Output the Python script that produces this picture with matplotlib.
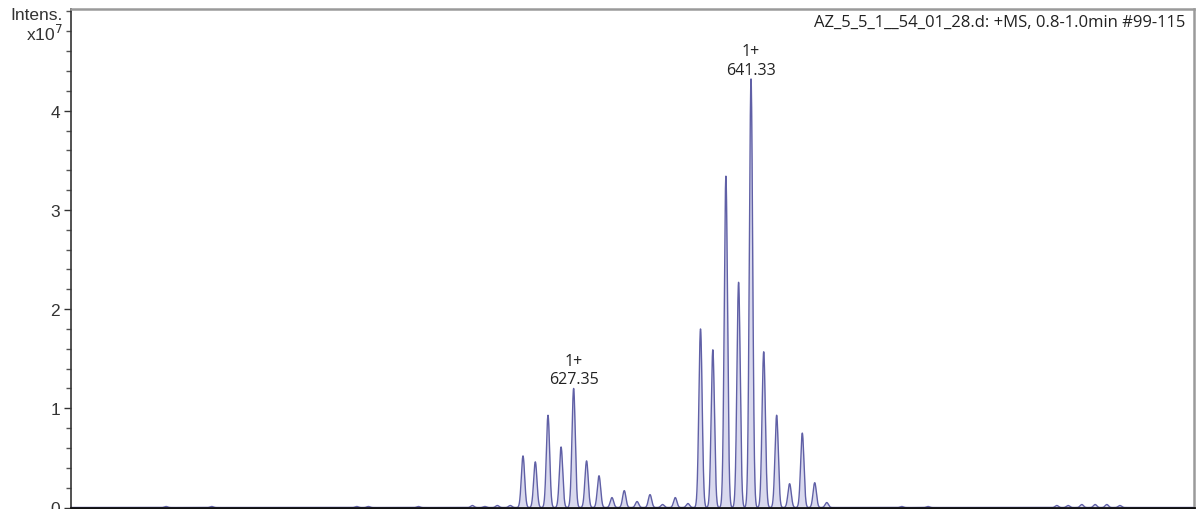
import numpy as np
import matplotlib
matplotlib.use("Agg")
import matplotlib.pyplot as plt
from matplotlib.ticker import MultipleLocator

# Centroided peak list (m/z) and intensities (x10^7)
mz = [595.23, 598.83, 610.26, 611.18, 615.12,
      619.37, 620.36, 621.34, 622.36,
      623.36, 624.33, 625.33, 626.36, 627.35, 628.37, 629.35, 630.37,
      631.34, 632.35, 633.37, 634.36, 635.36, 636.36,
      637.35, 638.32, 639.35, 640.35, 641.33, 642.33, 643.35, 644.37,
      645.37, 646.35, 647.30,
      653.21, 655.28, 665.43, 666.32, 667.40, 668.45, 669.37, 670.40]
intensity = [0.01, 0.01, 0.01, 0.01, 0.01,
             0.02, 0.01, 0.02, 0.02,
             0.52, 0.46, 0.93, 0.61, 1.20, 0.47, 0.32, 0.10,
             0.17, 0.06, 0.13, 0.03, 0.10, 0.04,
             1.80, 1.59, 3.34, 2.27, 4.32, 1.57, 0.93, 0.24,
             0.75, 0.25, 0.05,
             0.01, 0.01, 0.02, 0.02, 0.03, 0.03, 0.03, 0.02]

# Labelled peaks: (m/z, charge label)
labelled_mz = [627.35, 641.33]
labelled_charge = ["1+", "1+"]

title = "AZ_5_5_1__54_01_28.d: +MS, 0.8-1.0min #99-115"
x_range = (587.74, 676.24)
y_range = (0, 5.03)

line_color = "#6060a6"
fill_color = "#d9d9ee"

fig = plt.figure(figsize=(12, 5.1), dpi=100)
ax = fig.add_axes([71 / 1200, 1.5 / 510, (1194 - 71) / 1200, (508.5 - 9.5) / 510])

# Build a profile trace from the centroids with a narrow peak shape
grid = np.linspace(x_range[0], x_range[1], 30000)
sigma = 0.13
profile = np.zeros_like(grid)
for m, h in zip(mz, intensity):
    profile += h * np.exp(-0.5 * ((grid - m) / sigma) ** 2)

ax.fill_between(grid, 0, profile, color=fill_color, linewidth=0, zorder=1)
ax.plot(grid, profile, color=line_color, linewidth=1.0, zorder=2)

# Peak annotations
ann_font = ["Open Sans", "DejaVu Sans"]
for m, ch in zip(labelled_mz, labelled_charge):
    h = intensity[mz.index(m)]
    ax.annotate(f"{ch}\n{m:.2f}", xy=(m, h), xytext=(0, 1), textcoords="offset points",
                ha="center", va="bottom", fontsize=11.5, family=ann_font,
                color="#222222", linespacing=1.2)

ax.text(0.9925, 0.99, title, transform=ax.transAxes, ha="right", va="top",
        fontsize=12, family=ann_font, color="#222222")

ax.set_xlim(*x_range)
ax.set_ylim(*y_range)

# Axis styling
ax.yaxis.set_minor_locator(MultipleLocator(0.2))
ax.set_yticks([0, 1, 2, 3, 4])
ax.set_yticklabels(["0", "1", "2", "3", "4"])
ax.tick_params(axis="y", which="major", length=5, width=1, color="#333333",
               labelsize=12.5, labelcolor="#333333", pad=3)
ax.tick_params(axis="y", which="minor", length=3.5, width=1, color="#555555")
for lbl in ax.get_yticklabels():
    lbl.set_family(["Liberation Sans", "DejaVu Sans"])
ax.tick_params(axis="x", which="both", bottom=False, labelbottom=False)

ax.spines["left"].set_color("#333333")
ax.spines["left"].set_linewidth(1.2)
ax.spines["bottom"].set_color("#111111")
ax.spines["bottom"].set_linewidth(2.0)
ax.spines["top"].set_color("#9a9a9a")
ax.spines["top"].set_linewidth(1.8)
ax.spines["right"].set_color("#9a9a9a")
ax.spines["right"].set_linewidth(1.8)

# Intensity axis caption
fig.text(63 / 1200, 1 - 15 / 510, "Intens.", ha="right", va="center", fontsize=12.5,
         family=["Liberation Sans", "DejaVu Sans"], color="#333333")
fig.text(63 / 1200, 1 - 34 / 510, r"x10$^{7}$", ha="right", va="center", fontsize=12.5,
         family=["Liberation Sans", "DejaVu Sans"], color="#333333")

fig.savefig("out.png", dpi=100)
